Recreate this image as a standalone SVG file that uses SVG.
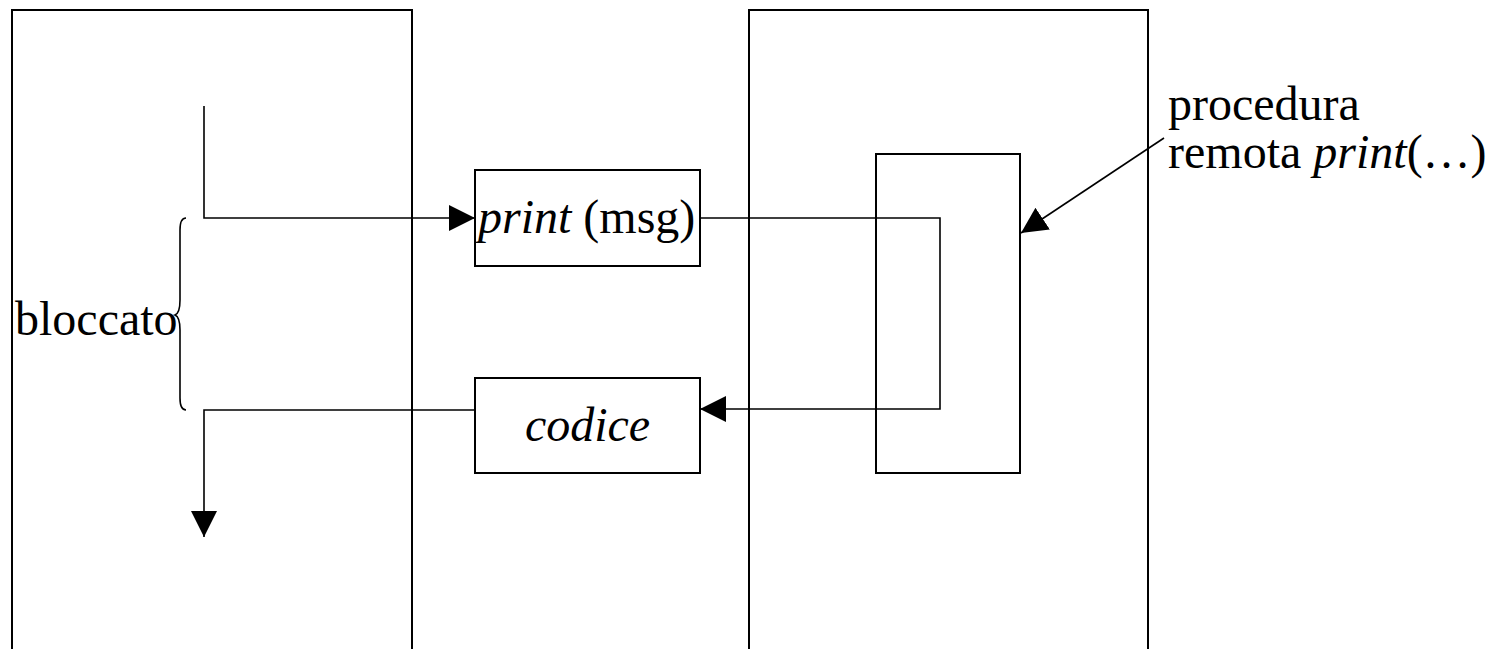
<svg xmlns="http://www.w3.org/2000/svg" width="1490" height="649" viewBox="0 0 1490 649">
  <style>
    .frame { fill: none; stroke: #000; stroke-width: 2; }
    .box { fill: #fff; stroke: #000; stroke-width: 2; }
    .wire { fill: none; stroke: #000; stroke-width: 1.6; }
    .lbl { font-family: "Liberation Serif", "Times New Roman", serif; font-size: 48px; fill: #000; }
    .it { font-style: italic; }
  </style>
  <defs>
    <marker id="tri" markerUnits="userSpaceOnUse" markerWidth="26" markerHeight="26" viewBox="0 0 26 26" refX="26" refY="13" orient="auto">
      <path d="M0,0 L26,13 L0,26 Z" fill="#000"/>
    </marker>
  </defs>

  <!-- client and server panels (open at the bottom) -->
  <g id="client">
    <path class="frame" d="M12,649 V10 H412 V649"/>
  </g>
  <g id="server">
    <path class="frame" d="M749,649 V10 H1148 V649"/>
  </g>

  <!-- message boxes -->
  <g id="print-msg">
    <rect class="box" x="475" y="170" width="225" height="96"/>
    <text class="lbl" x="478" y="233"><tspan class="it">print</tspan> (msg)</text>
  </g>
  <g id="codice">
    <rect class="box" x="475" y="378" width="225" height="95"/>
    <text class="lbl it" x="587.5" y="441" text-anchor="middle">codice</text>
  </g>

  <!-- remote procedure body -->
  <g id="procedure">
    <rect class="frame" x="876" y="154" width="144" height="319"/>
  </g>

  <!-- blocked interval -->
  <g id="bloccato">
    <path class="wire" d="M186,218 Q180,218 180,230 V300 Q180,313 175,315 Q180,317 180,330 V398 Q180,410 186,410"/>
    <text class="lbl" x="15" y="335">bloccato</text>
  </g>

  <!-- procedure caption -->
  <g id="caption">
    <text class="lbl" x="1168" y="120">procedura</text>
    <text class="lbl" x="1168" y="168">remota <tspan class="it">print</tspan>(…)</text>
  </g>

  <g id="connectors">
    <path class="wire" d="M204,106 V218 H475" marker-end="url(#tri)"/>
    <path class="wire" d="M700,218 H940 V409 H700" marker-end="url(#tri)"/>
    <path class="wire" d="M475,410 H204 V537" marker-end="url(#tri)"/>
    <path class="wire" d="M1164,138 L1021,233" marker-end="url(#tri)"/>
  </g>
</svg>
